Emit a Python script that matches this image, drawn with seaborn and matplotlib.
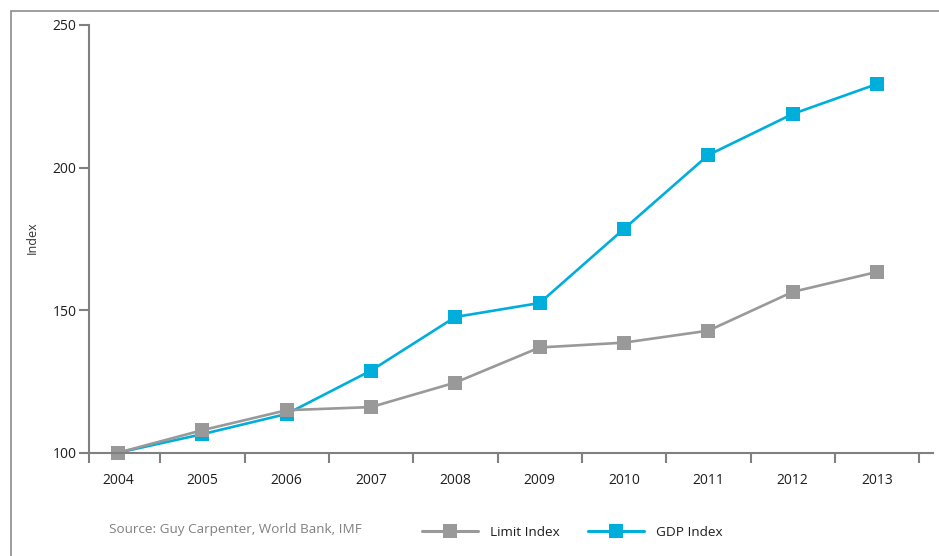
import matplotlib
matplotlib.use("Agg")
import matplotlib.pyplot as plt
import matplotlib.patches as mpatches
from matplotlib.lines import Line2D
import pandas as pd
import seaborn as sns

# ---- data -------------------------------------------------------------
years = ["2004", "2005", "2006", "2007", "2008", "2009", "2010", "2011", "2012", "2013"]
limit_index = [100, 107.9, 114.9, 116.0, 124.6, 136.9, 138.6, 142.8, 156.4, 163.4]
gdp_index = [100, 106.5, 113.6, 128.8, 147.6, 152.5, 178.5, 204.4, 218.8, 229.3]
y_ticks = [100, 150, 200, 250]
source_note = "Source: Guy Carpenter, World Bank, IMF"

series_names = ["Limit Index", "GDP Index"]
colors = {"Limit Index": "#999999", "GDP Index": "#00AEDB"}

df = pd.DataFrame({
    "pos": list(range(len(years))) * 2,
    "value": limit_index + gdp_index,
    "series": ["Limit Index"] * len(years) + ["GDP Index"] * len(years),
})

# ---- style ------------------------------------------------------------
sns.set_theme(style="white")
plt.rcParams["font.family"] = ["Open Sans", "DejaVu Sans"]
axis_grey = "#808080"
label_dark = "#1e1e1e"

fig = plt.figure(figsize=(9.39, 5.56), dpi=100)
ax = fig.add_axes([89 / 939, 1 - 452.7 / 556, (933 - 89) / 939, (452.7 - 25) / 556])

# GDP drawn first so the limit markers sit on top where they overlap
sns.lineplot(
    data=df, x="pos", y="value", hue="series", style="series",
    hue_order=["GDP Index", "Limit Index"], style_order=["GDP Index", "Limit Index"],
    palette=colors, markers={"GDP Index": "s", "Limit Index": "s"}, dashes=False,
    linewidth=1.9, markersize=10, markeredgewidth=0, legend=False, ax=ax,
)
for line in ax.get_lines():
    line.set_clip_on(False)
    line.set_markeredgewidth(0)

# ---- axes -------------------------------------------------------------
x_left = -0.344
x_right = 9.664
ax.set_xlim(x_left, x_right)
ax.set_ylim(100, 250)

for side in ["top", "right"]:
    ax.spines[side].set_visible(False)
for side in ["left", "bottom"]:
    ax.spines[side].set_color(axis_grey)
    ax.spines[side].set_linewidth(1.5)

# boundary ticks between years, labels centred under each year
ax.set_xticks([x_left] + [i + 0.5 for i in range(len(years))])
ax.set_xticklabels([])
ax.set_xticks(range(len(years)), minor=True)
ax.set_xticklabels(years, minor=True)
ax.tick_params(axis="x", which="major", direction="out", length=7, width=1.5,
               color=axis_grey, bottom=True)
ax.tick_params(axis="x", which="minor", length=0, pad=14.5, labelsize=10,
               labelcolor=label_dark, bottom=True)

ax.set_yticks(y_ticks)
ax.set_yticklabels([str(v) for v in y_ticks])
ax.tick_params(axis="y", direction="out", length=7.5, width=1.5, color=axis_grey,
               labelsize=10, labelcolor=label_dark, pad=1.5, left=True)

ax.set_xlabel("")
ax.set_ylabel("")
fig.text(32 / 939, 1 - 238 / 556, "Index", rotation=90, ha="center", va="center",
         fontsize=9, color="#333333")

# ---- frame, note and legend -------------------------------------------
frame = mpatches.Rectangle((10.5 / 939, -0.1), 1.2, 1 - 10.5 / 556 + 0.1,
                           transform=fig.transFigure, fill=False,
                           edgecolor="#8c8c8c", linewidth=1.2)
fig.patches.append(frame)

fig.text(109 / 939, 1 - 530 / 556, source_note, ha="left", va="center",
         fontsize=9.7, color="#808080")

handles = [
    Line2D([], [], color=colors[name], linewidth=2.2, marker="s",
           markersize=10, markeredgewidth=0)
    for name in series_names
]
fig.legend(handles, series_names, loc="center", bbox_to_anchor=(572 / 939, 1 - 532 / 556),
           ncol=2, frameon=False, handlelength=4.2, handletextpad=0.85,
           columnspacing=2.1, prop={"size": 9.7})
for txt in fig.legends[0].get_texts():
    txt.set_color(label_dark)

fig.savefig("out.png", dpi=100)
